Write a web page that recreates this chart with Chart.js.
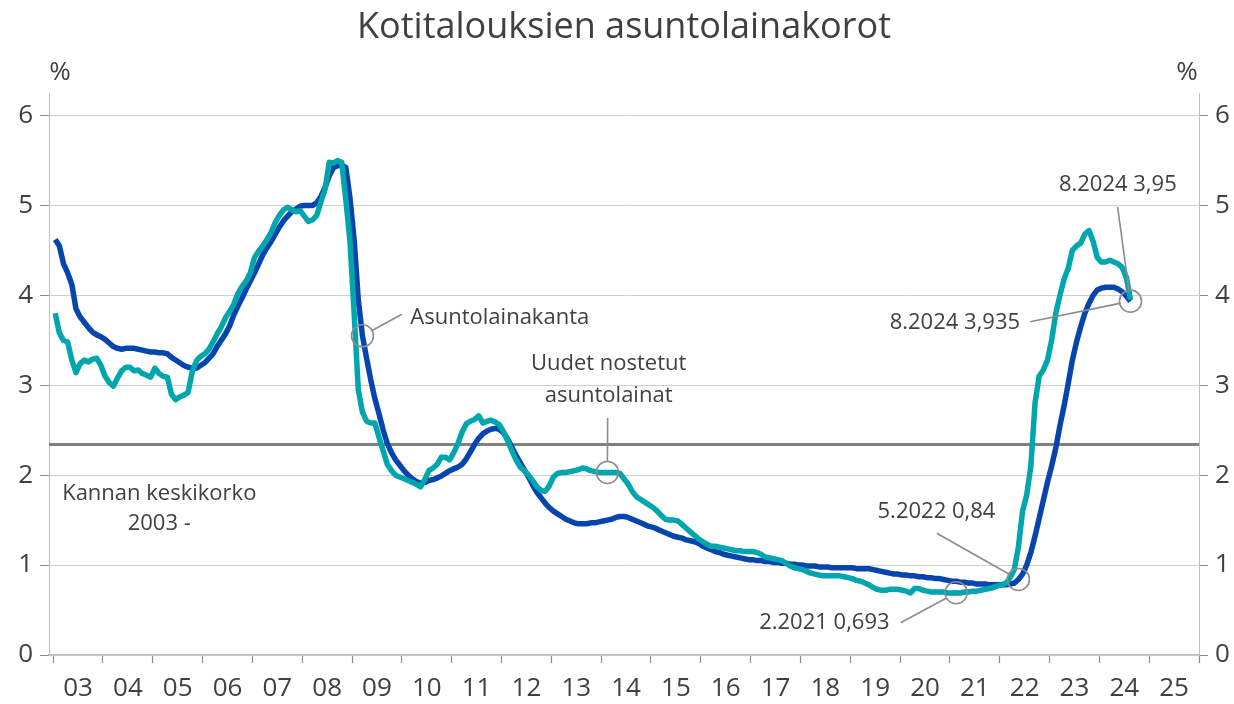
<!DOCTYPE html>
<html>
<head>
<meta charset="utf-8">
<script src="https://cdn.jsdelivr.net/npm/chart.js@4/dist/chart.umd.min.js"></script>
<style>
  html, body { margin: 0; background: #fff; }
  #wrap { width: 1234px; height: 704px; }
</style>
</head>
<body>
<div id="wrap"><canvas id="chart"></canvas></div>
<script>
// kuukausisarjat 1.2003 - 8.2024
const startYear = 2003;
const yearLabels = ['03','04','05','06','07','08','09','10','11','12','13','14','15','16','17','18','19','20','21','22','23','24','25'];

// Asuntolainakanta
const stockRate = [
  4.62, 4.55, 4.35, 4.25, 4.12, 3.85, 3.76, 3.70, 3.64, 3.59, 3.56, 3.54, // 2003
  3.51, 3.47, 3.43, 3.41, 3.40, 3.41, 3.41, 3.41, 3.40, 3.39, 3.38, 3.37, // 2004
  3.37, 3.36, 3.36, 3.35, 3.31, 3.28, 3.25, 3.22, 3.20, 3.19, 3.19, 3.22, // 2005
  3.25, 3.30, 3.35, 3.43, 3.50, 3.57, 3.66, 3.78, 3.88, 3.97, 4.07, 4.16, // 2006
  4.25, 4.35, 4.45, 4.53, 4.60, 4.68, 4.76, 4.83, 4.88, 4.93, 4.96, 4.99, // 2007
  5.00, 5.00, 5.00, 5.03, 5.10, 5.20, 5.33, 5.42, 5.44, 5.45, 5.42, 5.08, // 2008
  4.62, 3.95, 3.55, 3.30, 3.06, 2.85, 2.68, 2.50, 2.35, 2.25, 2.17, 2.11, // 2009
  2.05, 2.00, 1.96, 1.93, 1.91, 1.92, 1.94, 1.95, 1.97, 1.99, 2.02, 2.05, // 2010
  2.07, 2.09, 2.12, 2.18, 2.26, 2.34, 2.41, 2.46, 2.49, 2.51, 2.52, 2.51, // 2011
  2.47, 2.40, 2.31, 2.22, 2.14, 2.06, 1.98, 1.89, 1.81, 1.75, 1.69, 1.64, // 2012
  1.60, 1.57, 1.54, 1.51, 1.49, 1.47, 1.46, 1.46, 1.46, 1.47, 1.47, 1.48, // 2013
  1.49, 1.50, 1.51, 1.53, 1.54, 1.54, 1.53, 1.51, 1.49, 1.47, 1.45, 1.43, // 2014
  1.42, 1.40, 1.38, 1.36, 1.34, 1.32, 1.31, 1.30, 1.28, 1.27, 1.26, 1.24, // 2015
  1.21, 1.19, 1.17, 1.15, 1.14, 1.12, 1.11, 1.10, 1.09, 1.08, 1.07, 1.06, // 2016
  1.06, 1.05, 1.05, 1.04, 1.04, 1.03, 1.03, 1.02, 1.02, 1.01, 1.01, 1.00, // 2017
  1.00, 0.99, 0.99, 0.99, 0.98, 0.98, 0.98, 0.97, 0.97, 0.97, 0.97, 0.97, // 2018
  0.97, 0.96, 0.96, 0.96, 0.96, 0.95, 0.94, 0.93, 0.92, 0.91, 0.90, 0.90, // 2019
  0.89, 0.89, 0.88, 0.88, 0.87, 0.87, 0.86, 0.86, 0.85, 0.85, 0.84, 0.83, // 2020
  0.82, 0.82, 0.81, 0.81, 0.80, 0.80, 0.79, 0.79, 0.79, 0.78, 0.78, 0.78, // 2021
  0.78, 0.78, 0.79, 0.80, 0.84, 0.90, 1.00, 1.14, 1.32, 1.52, 1.72, 1.92, // 2022
  2.10, 2.30, 2.55, 2.77, 3.02, 3.28, 3.48, 3.65, 3.80, 3.91, 4.00, 4.06, // 2023
  4.08, 4.09, 4.09, 4.09, 4.07, 4.04, 3.99, 3.935                         // 2024
];

// Uudet nostetut asuntolainat
const newLoanRate = [
  3.80, 3.58, 3.50, 3.48, 3.28, 3.14, 3.24, 3.28, 3.26, 3.29, 3.30, 3.22, // 2003
  3.10, 3.03, 2.99, 3.08, 3.16, 3.20, 3.20, 3.16, 3.17, 3.13, 3.11, 3.09, // 2004
  3.19, 3.13, 3.10, 3.09, 2.90, 2.84, 2.87, 2.89, 2.92, 3.15, 3.27, 3.32, // 2005
  3.35, 3.40, 3.48, 3.57, 3.65, 3.75, 3.82, 3.90, 4.02, 4.10, 4.16, 4.25, // 2006
  4.42, 4.49, 4.55, 4.62, 4.70, 4.81, 4.89, 4.95, 4.98, 4.95, 4.93, 4.94, // 2007
  4.88, 4.82, 4.84, 4.89, 5.04, 5.18, 5.48, 5.47, 5.50, 5.48, 5.06, 4.60, // 2008
  3.80, 2.95, 2.70, 2.60, 2.58, 2.58, 2.42, 2.27, 2.12, 2.05, 2.00, 1.98, // 2009
  1.96, 1.94, 1.92, 1.90, 1.87, 1.95, 2.05, 2.08, 2.12, 2.20, 2.20, 2.17, // 2010
  2.25, 2.35, 2.48, 2.57, 2.60, 2.62, 2.66, 2.58, 2.60, 2.61, 2.59, 2.56, // 2011
  2.48, 2.38, 2.27, 2.17, 2.09, 2.05, 2.00, 1.94, 1.87, 1.83, 1.82, 1.88, // 2012
  1.98, 2.02, 2.03, 2.03, 2.04, 2.05, 2.06, 2.08, 2.07, 2.05, 2.04, 2.03, // 2013
  2.03, 2.03, 2.03, 2.03, 2.02, 1.96, 1.90, 1.82, 1.76, 1.73, 1.70, 1.67, // 2014
  1.64, 1.60, 1.55, 1.51, 1.50, 1.50, 1.49, 1.45, 1.41, 1.37, 1.33, 1.29, // 2015
  1.26, 1.23, 1.21, 1.21, 1.20, 1.19, 1.18, 1.17, 1.16, 1.16, 1.15, 1.15, // 2016
  1.15, 1.14, 1.12, 1.09, 1.08, 1.07, 1.06, 1.05, 1.02, 0.99, 0.97, 0.96, // 2017
  0.95, 0.93, 0.91, 0.90, 0.89, 0.88, 0.88, 0.88, 0.88, 0.88, 0.87, 0.86, // 2018
  0.85, 0.83, 0.82, 0.80, 0.78, 0.75, 0.73, 0.72, 0.72, 0.73, 0.73, 0.73, // 2019
  0.72, 0.71, 0.69, 0.74, 0.74, 0.72, 0.71, 0.70, 0.70, 0.70, 0.70, 0.69, // 2020
  0.69, 0.693, 0.69, 0.70, 0.70, 0.71, 0.71, 0.72, 0.73, 0.74, 0.75, 0.77, // 2021
  0.78, 0.80, 0.86, 0.95, 1.20, 1.60, 1.78, 2.10, 2.80, 3.10, 3.17, 3.28, // 2022
  3.50, 3.80, 4.00, 4.18, 4.30, 4.50, 4.55, 4.58, 4.68, 4.72, 4.60, 4.42, // 2023
  4.37, 4.37, 4.39, 4.37, 4.35, 4.31, 4.20, 3.95                          // 2024
];

// Kannan keskikorko 2003 -
const avgStockRate = 2.34;

const xMin = startYear - 1 / 12;
const xMax = 2026;
const monthX = i => startYear + (i + 0.5) / 12;
const toPoints = arr => arr.map((v, i) => ({ x: monthX(i), y: v }));

const textColor = '#404040';
const fontFamily = '"Open Sans", "Noto Sans", sans-serif';

// ympyrät ja selitteet
const callouts = [
  { series: stockRate, index: 74, from: [2010.0, 3.79],
    lines: ['Asuntolainakanta'], tx: 2010.17, ty: 3.75, align: 'left' },
  { series: newLoanRate, index: 133, from: [2014.13, 2.636],
    lines: ['Uudet nostetut', 'asuntolainat'], tx: 2014.15, ty: 3.237, align: 'center' },
  { series: stockRate, index: 232, from: [2020.736, 1.354],
    lines: ['5.2022 0,84'], tx: 2020.73, ty: 1.594, align: 'center' },
  { series: newLoanRate, index: 217, from: [2020.012, 0.359],
    lines: ['2.2021 0,693'], tx: 2018.48, ty: 0.359, align: 'center' },
  { series: stockRate, index: 259, from: [2022.612, 3.707],
    lines: ['8.2024 3,935'], tx: 2021.10, ty: 3.697, align: 'center' },
  { series: stockRate, index: 259, from: [2024.366, 4.983], noCircle: true,
    lines: ['8.2024 3,95'], tx: 2024.37, ty: 5.228, align: 'center' }
];
const freeTexts = [
  { lines: ['Kannan keskikorko', '2003 -'], tx: 2005.13, ty: 1.79 }
];

const calloutPlugin = {
  id: 'callouts',
  afterDatasetsDraw(chart) {
    const { ctx, scales: { x, y } } = chart;
    const R = 11;
    ctx.save();
    ctx.strokeStyle = '#8c8c8c';
    ctx.lineWidth = 1.6;
    ctx.fillStyle = textColor;
    ctx.font = '22px ' + fontFamily;
    ctx.textBaseline = 'middle';
    callouts.forEach(c => {
      const cx = x.getPixelForValue(monthX(c.index));
      const cy = y.getPixelForValue(c.series[c.index]);
      if (!c.noCircle) {
        ctx.beginPath();
        ctx.arc(cx, cy, R, 0, Math.PI * 2);
        ctx.stroke();
      }
      const lx = x.getPixelForValue(c.from[0]);
      const ly = y.getPixelForValue(c.from[1]);
      const d = Math.hypot(lx - cx, ly - cy);
      ctx.beginPath();
      ctx.moveTo(lx, ly);
      ctx.lineTo(cx + (lx - cx) / d * R, cy + (ly - cy) / d * R);
      ctx.stroke();
      ctx.textAlign = c.align;
      const tx = x.getPixelForValue(c.tx);
      const ty = y.getPixelForValue(c.ty);
      c.lines.forEach((t, k) => ctx.fillText(t, tx, ty + k * 32));
    });
    ctx.textAlign = 'center';
    freeTexts.forEach(f => {
      const tx = x.getPixelForValue(f.tx);
      const ty = y.getPixelForValue(f.ty);
      f.lines.forEach((t, k) => ctx.fillText(t, tx, ty + k * 30));
    });
    ctx.restore();
  },
  afterDraw(chart) {
    const { ctx, chartArea } = chart;
    ctx.save();
    ctx.fillStyle = textColor;
    ctx.textBaseline = 'middle';
    ctx.textAlign = 'center';
    ctx.font = '36px ' + fontFamily;
    ctx.fillText('Kotitalouksien asuntolainakorot', 624, 28);
    ctx.font = '26px ' + fontFamily;
    ctx.fillText('%', chartArea.left + 11, 73);
    ctx.fillText('%', chartArea.right - 12, 73);
    ctx.restore();
  }
};

const xTicks = [];
for (let i = 0; i <= yearLabels.length; i++) xTicks.push(startYear + i);
yearLabels.forEach((l, i) => xTicks.push(startYear + i + 0.5));

const yAxisCommon = {
  type: 'linear',
  min: 0,
  max: 6.25,
  ticks: { stepSize: 1, includeBounds: false, color: textColor, padding: 7,
           font: { family: fontFamily, size: 26 } },
  border: { display: true, color: '#bfbfbf', width: 1 }
};

new Chart(document.getElementById('chart'), {
  type: 'line',
  data: {
    datasets: [
      { label: 'Uudet nostetut asuntolainat', data: toPoints(newLoanRate),
        borderColor: '#00a6ae', borderWidth: 5.5, order: 0 },
      { label: 'Asuntolainakanta', data: toPoints(stockRate),
        borderColor: '#0645ad', borderWidth: 5.5, order: 1 },
      { label: 'Kannan keskikorko 2003 -', data: [{ x: xMin, y: avgStockRate }, { x: xMax, y: avgStockRate }],
        borderColor: '#808080', borderWidth: 3, order: 2 }
    ]
  },
  options: {
    responsive: true,
    maintainAspectRatio: false,
    animation: false,
    layout: { padding: { top: 93, left: 0, right: 0, bottom: 0 } },
    elements: {
      point: { radius: 0 },
      line: { tension: 0, borderJoinStyle: 'round', borderCapStyle: 'butt', fill: false }
    },
    plugins: { legend: { display: false }, tooltip: { enabled: false }, title: { display: false } },
    scales: {
      x: {
        type: 'linear',
        min: xMin,
        max: xMax,
        afterBuildTicks: axis => { axis.ticks = xTicks.map(v => ({ value: v })); },
        afterFit: axis => { axis.height = 49; },
        ticks: {
          autoSkip: false, maxRotation: 0, padding: 10, color: textColor,
          font: { family: fontFamily, size: 26 },
          callback: v => Number.isInteger(v) ? '' : yearLabels[Math.floor(v) - startYear]
        },
        grid: {
          drawOnChartArea: false, tickLength: 8, tickWidth: 1.2,
          tickColor: ctx => (ctx.tick && Number.isInteger(ctx.tick.value)) ? '#8c8c8c' : 'rgba(0,0,0,0)'
        },
        border: { display: true, color: '#bfbfbf', width: 1.5 }
      },
      y: Object.assign({}, yAxisCommon, {
        position: 'left',
        afterFit: axis => { axis.width = 49; },
        grid: { color: '#d0d0d0', lineWidth: 1, tickLength: 9, tickColor: '#8c8c8c' }
      }),
      y2: Object.assign({}, yAxisCommon, {
        position: 'right',
        afterFit: axis => { axis.width = 35; },
        grid: { drawOnChartArea: false, tickLength: 9, tickColor: '#8c8c8c' }
      })
    }
  },
  plugins: [calloutPlugin]
});
</script>
</body>
</html>
